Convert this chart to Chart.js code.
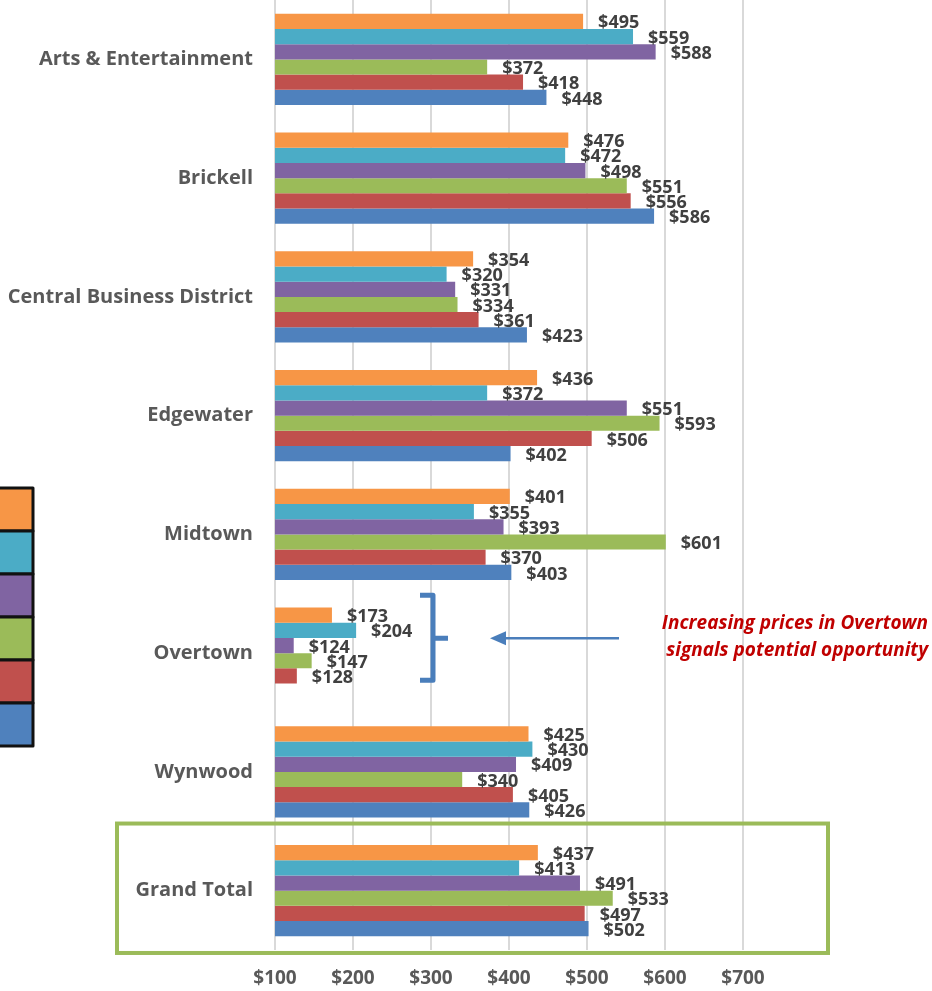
<!DOCTYPE html>
<html>
<head>
<meta charset="utf-8">
<script src="https://cdn.jsdelivr.net/npm/chart.js@4.4.1/dist/chart.umd.min.js"></script>
<style>
  html, body { margin: 0; padding: 0; background: #fff; }
  #wrap { position: relative; width: 932px; height: 991px; }
</style>
</head>
<body>
<div id="wrap"><canvas id="priceChart"></canvas></div>
<script>
// --- DATA ---
const neighborhoods = ['Arts & Entertainment', 'Brickell', 'Central Business District', 'Edgewater', 'Midtown', 'Overtown', 'Wynwood', 'Grand Total'];
const seriesNames = ['Series 1', 'Series 2', 'Series 3', 'Series 4', 'Series 5', 'Series 6'];
const seriesColors = ['#f79646', '#4bacc6', '#8064a2', '#9bbb59', '#c0504d', '#4f81bd'];
const orangeVals = [495, 476, 354, 436, 401, 173, 425, 437];
const tealVals   = [559, 472, 320, 372, 355, 204, 430, 413];
const purpleVals = [588, 498, 331, 551, 393, 124, 409, 491];
const greenVals  = [372, 551, 334, 593, 601, 147, 340, 533];
const redVals    = [418, 556, 361, 506, 370, 128, 405, 497];
const blueVals   = [448, 586, 423, 402, 403, null, 426, 502];
const xTicks = [100, 200, 300, 400, 500, 600, 700];
const noteLines = ['Increasing prices in Overtown', 'signals potential opportunity'];

const allVals = [orangeVals, tealVals, purpleVals, greenVals, redVals, blueVals];

// --- PLUGINS ---
const valueLabels = {
    id: 'valueLabels',
    afterDatasetsDraw(chart) {
        const ctx = chart.ctx;
        ctx.save();
        ctx.font = 'bold 18px "Open Sans", sans-serif';
        ctx.fillStyle = '#404040';
        ctx.textAlign = 'left';
        ctx.textBaseline = 'middle';
        chart.data.datasets.forEach((ds, i) => {
            chart.getDatasetMeta(i).data.forEach((bar, j) => {
                const v = ds.data[j];
                if (v == null) return;
                ctx.fillText('$' + v, bar.x + 15, bar.y + 2);
            });
        });
        ctx.restore();
    }
};

const extras = {
    id: 'extras',
    afterDraw(chart) {
        const ctx = chart.ctx;
        const y = chart.scales.y;
        const band = (y.getPixelForValue(1) - y.getPixelForValue(0));
        ctx.save();

        // green highlight box around Grand Total
        const gt = y.getPixelForValue(7);
        ctx.strokeStyle = '#9bbb59';
        ctx.lineWidth = 4;
        ctx.strokeRect(117, gt - band * 0.565, 711, band * 1.09);

        // bracket + arrow for Overtown
        const ot = y.getPixelForValue(5);
        const tip = ot - 15;
        ctx.strokeStyle = '#4a7ebb';
        ctx.fillStyle = '#4a7ebb';
        ctx.lineWidth = 5;
        ctx.lineJoin = 'round';
        ctx.beginPath();
        ctx.moveTo(420, ot - 58);
        ctx.lineTo(433, ot - 58);
        ctx.lineTo(433, ot + 27);
        ctx.lineTo(420, ot + 27);
        ctx.moveTo(433, tip);
        ctx.lineTo(448, tip);
        ctx.stroke();

        ctx.lineWidth = 2.5;
        ctx.beginPath();
        ctx.moveTo(619, tip);
        ctx.lineTo(500, tip);
        ctx.stroke();
        ctx.beginPath();
        ctx.moveTo(490, tip);
        ctx.lineTo(506, tip - 7);
        ctx.lineTo(506, tip + 7);
        ctx.closePath();
        ctx.fill();

        // note text
        ctx.font = 'italic bold 19px "Open Sans", sans-serif';
        ctx.fillStyle = '#c00000';
        ctx.textAlign = 'right';
        ctx.textBaseline = 'middle';
        ctx.fillText(noteLines[0], 928, ot - 30);
        ctx.fillText(noteLines[1], 928, ot - 3);

        // legend swatches (cut off at the left edge)
        const h = 43;
        seriesColors.forEach((c, i) => {
            const top = 488 + i * h;
            ctx.fillStyle = c;
            ctx.fillRect(-10, top, 43, h);
            ctx.strokeStyle = '#111';
            ctx.lineWidth = 3;
            ctx.strokeRect(-10, top, 43, h);
        });
        ctx.restore();
    }
};

// --- CHART ---
new Chart(document.getElementById('priceChart'), {
    type: 'bar',
    data: {
        labels: neighborhoods,
        datasets: allVals.map((vals, i) => ({
            label: seriesNames[i],
            data: vals,
            backgroundColor: seriesColors[i],
            borderWidth: 0,
            categoryPercentage: 0.77,
            barPercentage: 1
        }))
    },
    options: {
        indexAxis: 'y',
        responsive: true,
        maintainAspectRatio: false,
        animation: false,
        layout: { padding: { top: 0, right: 189, bottom: 0, left: 0 } },
        plugins: { legend: { display: false }, tooltip: { enabled: false } },
        scales: {
            x: {
                min: 100,
                max: 700,
                afterBuildTicks: (scale) => { scale.ticks = xTicks.map(v => ({ value: v })); },
                afterFit: (scale) => { scale.height = 41; scale.paddingTop = 0; scale.paddingBottom = 0; },
                grid: { color: '#d9d9d9', lineWidth: 2, drawTicks: false },
                border: { display: false },
                ticks: {
                    padding: 17,
                    color: '#595959',
                    font: { family: '"Open Sans", sans-serif', size: 19, weight: 'bold' },
                    callback: (v) => '$' + v
                }
            },
            y: {
                afterFit: (scale) => { scale.width = 275; scale.paddingTop = 0; scale.paddingBottom = 0; },
                grid: { display: false, drawTicks: false },
                border: { display: false },
                ticks: {
                    padding: 22,
                    color: '#595959',
                    font: { family: '"Open Sans", sans-serif', size: 20, weight: 'bold' }
                }
            }
        }
    },
    plugins: [valueLabels, extras]
});
</script>
</body>
</html>
